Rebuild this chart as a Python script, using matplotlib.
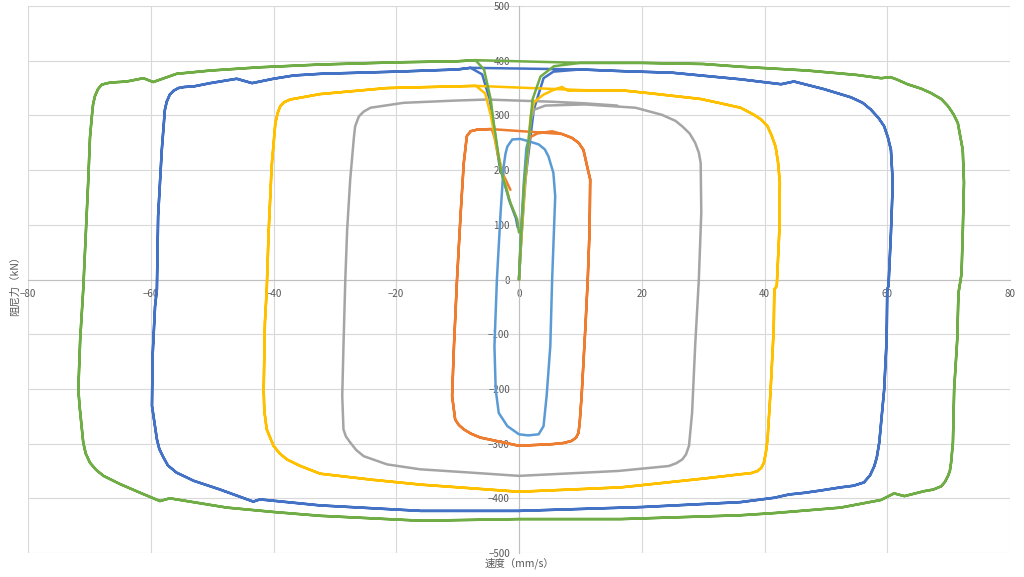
import matplotlib
matplotlib.use("Agg")
import matplotlib.pyplot as plt

plt.rcParams['font.family'] = ['Noto Sans CJK SC', 'DejaVu Sans']

# ---------------------------------------------------------------------------
# traced loops: velocity (mm/s) vs damping force (kN)
# each series = rise from origin + one clockwise loop (+ descending tail)
# ---------------------------------------------------------------------------
blue_rise_v = [0, 0.3, 0.9, 2.4, 4.0, 5.6]
blue_rise_f = [0, 60, 170, 310, 368, 380]
blue_loop_v = [10, 16.6, 25, 36.1, 42.7, 44.8, 49.7, 54.1, 56.0, 57.3, 58.6, 59.5, 60.1, 60.6, 60.9, 60.6,
               60.2, 60.0, 59.9, 59.5, 58.7, 58.3, 57.9, 57.2, 56.2, 54.5, 52.4, 49.0, 46.5, 44.0, 41.6,
               36.1, 20, 0, -16, -32.4, -42.2, -43.3, -46.0, -48.7, -53.0, -55.8, -57.2, -57.9, -58.6,
               -59.0, -59.8, -59.7, -59.3, -59.0, -58.8, -58.2, -57.7, -57.4, -56.9, -56.3, -55.5, -54.5,
               -53.0, -50.3, -46.0, -43.5, -40.0, -36.7, -32.4, -20, -10, -7.9]
blue_loop_f = [384, 381, 378, 366, 357, 362, 348, 333, 323, 311, 295, 280, 260, 237, 177, 85,
               -12, -18, -110, -201, -298, -325, -341, -358, -371, -377, -380, -386, -390, -393, -399,
               -407, -416, -423, -423, -413, -402, -406, -395, -384, -368, -353, -340, -326, -310,
               -292, -231, -140, -49, -18, 116, 237, 310, 325, 338, 345, 350, 352,
               353, 359, 367, 359, 367, 373, 376, 380, 384, 387]
blue_tail_v = [-6.0, -4.8, -4.2, -3.2, -1.6, -0.5, -0.2]
blue_tail_f = [375, 330, 290, 210, 145, 112, 95]

orange_rise_v = [0, 0.4, 1.2, 1.8, 3.0, 5.4]
orange_rise_f = [0, 100, 220, 260, 267, 271]
orange_loop_v = [7.0, 8.6, 9.7, 10.5, 11.1, 11.6, 11.5, 11.2, 10.8, 10.2, 9.9, 9.7, 9.3, 8.6, 7.2, 5.4, 0,
                 -2.5, -6.3, -7.8, -9.0, -9.8, -10.4, -10.9, -10.6, -10.1, -9.5, -9.0, -8.5, -7.9, -6.8,
                 -4.6]
orange_loop_f = [266, 259, 250, 237, 207, 183, 91, 0, -91, -213, -260, -280, -289, -295, -299, -301, -304,
                 -298, -289, -282, -274, -266, -256, -213, -122, 0, 122, 213, 262, 271, 274,
                 275]
orange_tail_v = [-4.4, -4.0, -3.4, -2.5, -1.4]
orange_tail_f = [274, 260, 225, 190, 164]

grey_rise_v = [0, 0.4, 1.2, 1.9, 2.4, 4.3]
grey_rise_f = [0, 80, 200, 290, 310, 318]
grey_loop_v = [10.8, 19.0, 23.3, 25.5, 26.6, 27.8, 28.7, 29.3, 29.6, 29.7, 29.3, 28.7, 28.2, 27.7, 27.2,
               26.6, 25.6, 24.4, 16.2, 5.4, 0, -7.9, -16.1, -21.5, -25.3, -26.5, -27.5, -28.2, -28.6,
               -28.8, -28.6, -28.3, -28.0, -27.5, -26.9, -26.7, -26.1, -25.3, -24.2, -18.8, -10.6, -5.2,
               0, 5.4, 10.8, 16.0]
grey_loop_f = [320, 314, 301, 290, 280, 267, 250, 232, 213, 122, 0, -122, -244, -304, -320,
               -329, -336, -341, -350, -356, -359, -353, -347, -338, -323, -312, -298, -287, -274,
               -213, -122, 0, 91, 183, 260, 280, 298, 307, 314, 323, 327, 329,
               327, 325, 322, 318]

yellow_rise_v = [0, 0.3, 0.9, 1.9, 2.5, 4.0, 5.7, 7.0, 8.0]
yellow_rise_f = [0, 60, 170, 300, 325, 338, 347, 352, 345]
yellow_loop_v = [10.8, 16.6, 21.7, 29.6, 32.5, 36.1, 38.3, 39.5, 40.5, 41.2, 41.8, 42.2, 42.5, 42.4, 42.0,
                 41.6, 41.5, 41.0, 40.5, 40.2, 39.9, 39.5, 38.9, 37.8, 36.1, 30, 16.6, 0, -16, -24, -32.4,
                 -35.6, -37.8, -39.0, -40.0, -41.1, -41.5, -41.6, -41.4, -41.1, -40.8, -40.3, -39.7, -39.3,
                 -38.9, -38.3, -37.3, -32.4, -21.5, -10.6, -7.0]
yellow_loop_f = [346, 346, 340, 330, 323, 314, 301, 292, 280, 262, 243, 215, 177, 85, -12,
                 -18, -91, -201, -292, -318, -335, -344, -350, -354, -356, -364, -380, -388, -375, -366, -355,
                 -341, -329, -318, -304, -274, -240, -201, -79, -18, 85, 207, 286, 305,
                 317, 324, 329, 339, 350, 353, 354]
yellow_tail_v = [-5.5, -4.6, -3.6, -2.6, -1.7]
yellow_tail_f = [340, 300, 240, 190, 152]

lblue_rise_v = [0, 0.3, 0.8, 1.2, 1.5]
lblue_rise_f = [0, 80, 180, 240, 253]
lblue_loop_v = [3.2, 4.2, 4.8, 5.6, 5.9, 5.6, 5.4, 5.1, 4.5, 4.0, 3.2, 1.5, 0, -1.9, -3.3, -3.8, -4.0,
                -3.6, -3.0, -2.5, -2.2, -1.9, -1.1, 0.2, 1.5]
lblue_loop_f = [247, 238, 225, 195, 152, 61, 0, -122, -213, -268, -283, -285, -283, -268, -244, -201, -122,
                0, 122, 207, 230, 243, 256, 257, 253]

green_rise_v = [0, 0.2, 0.8, 1.9, 2.2, 3.5, 5.7]
green_rise_f = [0, 49, 170, 292, 329, 371, 390]
green_loop_v = [10, 20, 30, 36.1, 47, 55, 59, 60.5, 61.5, 63.3, 65.5, 67.1, 68.8, 69.9, 70.8, 71.5, 72.3,
                72.5, 72.3, 72.1, 71.6, 71.4, 70.9, 70.7, 70.4, 70.2, 69.9, 69.4, 68.8, 67.5, 66.0, 62.8,
                61.1, 59.0, 52.4, 41.6, 36.1, 16.6, 0, -16, -32.4, -40.0, -47.6, -56.9, -58.5, -61.7,
                -65.0, -67.7, -68.9, -69.9, -70.6, -71.0, -71.6, -71.8, -71.5, -71.0, -70.7, -70.2, -69.9,
                -69.6, -69.4, -69.1, -68.6, -68.0, -67.4, -66.6, -63.9, -61.2, -59.6, -55.8, -50.3,
                -42.2, -32.4, -20, -10, -7.1]
green_loop_f = [396, 396, 394, 389, 382, 374, 368, 370, 366, 357, 349, 341, 330, 317, 302, 286, 237,
                177, 85, 10, -25, -110, -201, -298, -335, -350, -359, -370, -378, -384, -387, -396,
                -391, -403, -417, -427, -431, -438, -438, -441, -432, -425, -417, -400, -405, -390,
                -374, -359, -348, -335, -318, -298, -231, -201, -110, -18, 55, 177, 260,
                298, 320, 335, 348, 356, 358, 360, 362, 368, 361, 376, 382,
                388, 393, 397, 399, 401]
green_tail_v = [-5.7, -4.6, -4.2, -3.8, -3.0, -1.4, -0.3, 0.0]
green_tail_f = [384, 329, 292, 262, 201, 140, 110, 86]

series = [
    ("#4472C4", blue_rise_v + blue_loop_v + blue_loop_v + blue_tail_v,
     blue_rise_f + blue_loop_f + blue_loop_f + blue_tail_f),
    ("#ED7D31", orange_rise_v + orange_loop_v + orange_loop_v + orange_tail_v,
     orange_rise_f + orange_loop_f + orange_loop_f + orange_tail_f),
    ("#A5A5A5", grey_rise_v + grey_loop_v, grey_rise_f + grey_loop_f),
    ("#FFC000", yellow_rise_v + yellow_loop_v + yellow_loop_v + yellow_tail_v,
     yellow_rise_f + yellow_loop_f + yellow_loop_f + yellow_tail_f),
    ("#5B9BD5", lblue_rise_v + lblue_loop_v, lblue_rise_f + lblue_loop_f),
    ("#70AD47", green_rise_v + green_loop_v + green_loop_v + green_tail_v,
     green_rise_f + green_loop_f + green_loop_f + green_tail_f),
]

x_ticks = [-80, -60, -40, -20, 0, 20, 40, 60, 80]
y_ticks = [-500, -400, -300, -200, -100, 0, 100, 200, 300, 400, 500]

fig = plt.figure(figsize=(10.24, 5.77), dpi=100)
ax = fig.add_axes([28 / 1024, 1 - 553 / 577, 982 / 1024, 547 / 577])

for color, v, f in series:
    ax.plot(v, f, color=color, lw=1.8, solid_joinstyle="round", solid_capstyle="round", zorder=3)

ax.set_xlim(-80, 80)
ax.set_ylim(-500, 500)
ax.set_xticks(x_ticks)
ax.set_yticks(y_ticks)
ax.grid(True, color="#D9D9D9", lw=0.8, zorder=0)
ax.set_axisbelow(True)

for s in ["top", "right"]:
    ax.spines[s].set_visible(False)
ax.spines["left"].set_position(("data", 0))
ax.spines["bottom"].set_position(("data", 0))
for s in ["left", "bottom"]:
    ax.spines[s].set_color("#BFBFBF")
    ax.spines[s].set_linewidth(0.8)
    ax.spines[s].set_zorder(1)
ax.tick_params(axis="both", length=0, labelsize=7, labelcolor="#595959")
ax.tick_params(axis="y", pad=6.5)
ax.tick_params(axis="x", pad=7)
ax.set_facecolor("none")

fig.text(519 / 1024, 1 - 563 / 577, "速度（mm/s）", ha="center", va="center",
         fontsize=7.5, color="#595959")
fig.text(15 / 1024, 1 - 283 / 577, "阻尼力（kN）", ha="center", va="center",
         rotation=90, fontsize=7.5, color="#595959")

fig.savefig("out.png", dpi=100)
